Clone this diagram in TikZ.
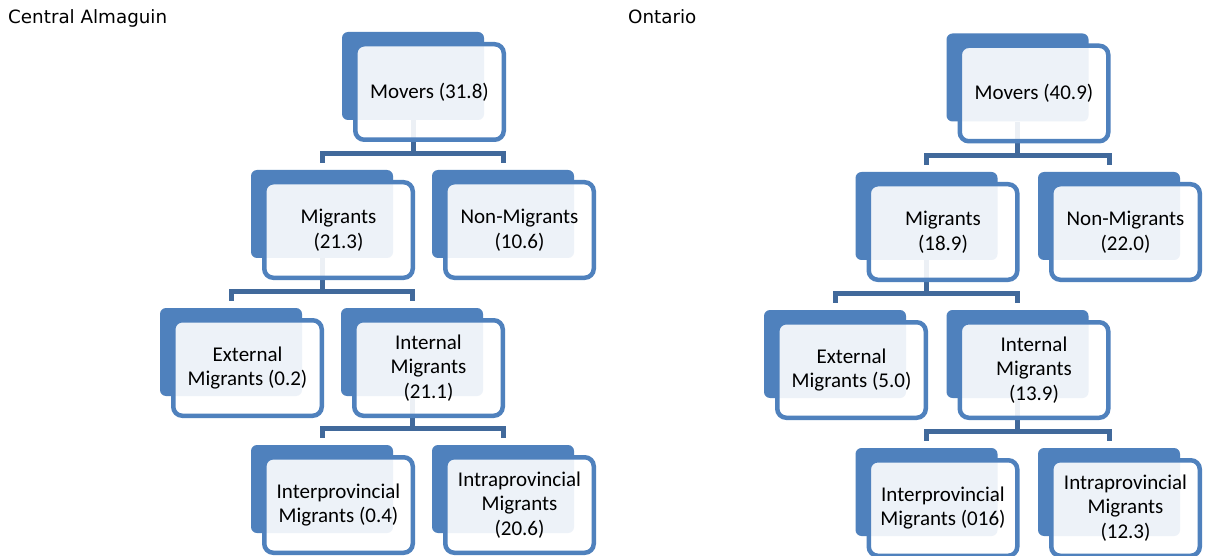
\documentclass[tikz,border=0pt]{standalone}
\usepackage{fontspec}
\setmainfont{Carlito}
\newfontfamily\titlefont{DejaVu Sans}
\usetikzlibrary{calc,positioning}
\pgfdeclarelayer{background}
\pgfsetlayers{background,main}
\definecolor{boxblue}{HTML}{4F81BD}
\definecolor{connblue}{HTML}{41699B}
\tikzset{
  x=1pt,y=1pt,
  backbox/.style={fill=boxblue,rounded corners=6pt,minimum width=142pt,minimum height=88pt,inner sep=0pt},
  frontbox/.style={draw=boxblue,line width=4.5pt,fill=white,fill opacity=0.9,text opacity=1,rounded corners=9pt,
    minimum width=148.5pt,minimum height=95.5pt,inner sep=0pt,align=center,
    font=\fontsize{21}{24.5}\selectfont},
  conn/.style={draw=connblue,line width=5pt},
  title/.style={anchor=north west,inner sep=0pt,font=\titlefont\fontsize{18.3}{22}\selectfont}
}
\newcommand{\orgbox}[4]{% name, x, y, text
  \node[backbox] (#1B) at (#2,#3) {};
  \node[frontbox] (#1) at ($(#1B)+(16.5,-16)$) {#4};
}
\newcommand{\orglink}[3]{% parent, left child, right child
  \begin{pgfonlayer}{background}
    \draw[conn] (#1B.south) -- ($(#1B.south |- #2B.north)+(0,16)$);
    \draw[conn] ($(#2B.north)+(0,7)$) |- ($(#3B.north)+(0,16)$) -- ($(#3B.north)+(0,7)$);
  \end{pgfonlayer}
}
\begin{document}
\begin{tikzpicture}
\useasboundingbox (0,0) rectangle (1205,-556);
\begin{pgfonlayer}{background}
\fill[white] (0,0) rectangle (1205,-556);
\end{pgfonlayer}

\node[title] (tl) at (8,-9) {Central Almaguin};
\node[title] (tr) at (628,-9) {Ontario};

% left tree
\orgbox{lmv}{413}{-76}{Movers (31.8)}
\orgbox{lmi}{322}{-214}{Migrants\\(21.3)}
\orgbox{lnm}{503}{-214}{Non-Migrants\\(10.6)}
\orgbox{lex}{231}{-352}{External\\Migrants (0.2)}
\orgbox{lin}{412}{-352}{Internal\\Migrants\\(21.1)}
\orgbox{lip}{322}{-489}{Interprovincial\\Migrants (0.4)}
\orgbox{lia}{503}{-489}{Intraprovincial\\Migrants\\(20.6)}
\orglink{lmv}{lmi}{lnm}
\orglink{lmi}{lex}{lin}
\orglink{lin}{lip}{lia}

% right tree
\orgbox{rmv}{1017.5}{-77.5}{Movers (40.9)}
\orgbox{rmi}{926.5}{-216}{Migrants\\(18.9)}
\orgbox{rnm}{1109}{-216}{Non-Migrants\\(22.0)}
\orgbox{rex}{835}{-354}{External\\Migrants (5.0)}
\orgbox{rin}{1017.5}{-354}{Internal\\Migrants\\(13.9)}
\orgbox{rip}{926.5}{-492}{Interprovincial\\Migrants (016)}
\orgbox{ria}{1109}{-492}{Intraprovincial\\Migrants\\(12.3)}
\orglink{rmv}{rmi}{rnm}
\orglink{rmi}{rex}{rin}
\orglink{rin}{rip}{ria}
\end{tikzpicture}
\end{document}
